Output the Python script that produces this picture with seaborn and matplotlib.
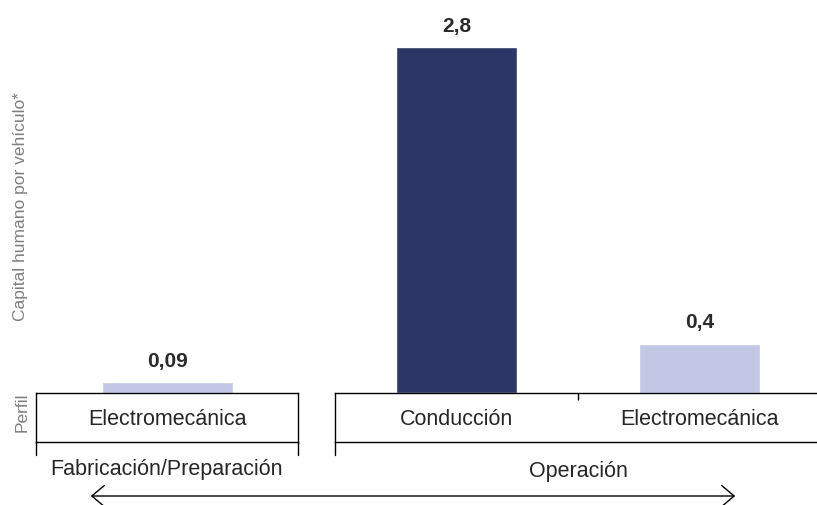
import matplotlib
matplotlib.use("Agg")
import matplotlib.pyplot as plt
import seaborn as sns

# datos
fab_perfiles = ["Electromecánica"]
fab_valores = [0.09]
op_perfiles = ["Conducción", "Electromecánica "]
op_valores = [2.8, 0.4]
etapas = ["Fabricación/Preparación", "Operación"]
ylabel = "Capital humano por vehículo*"

sns.set_theme(style="white")
plt.rcParams["font.family"] = ["Liberation Sans", "DejaVu Sans"]

W, H = 817, 505
fig = plt.figure(figsize=(W / 100, H / 100), dpi=100)

oscuro = "#2d3767"
claro = "#c1c7e5"


def fx(px):
    return px / W


def fy(py):
    return 1 - py / H


def grupo(x0, x1, perfiles, valores, colores, extremos):
    ax = fig.add_axes([fx(x0), fy(393), fx(x1 - x0), 393 / H])
    sns.barplot(x=perfiles, y=valores, hue=perfiles, palette=colores,
                width=0.5, legend=False, ax=ax, saturation=1)
    ax.set_xlim(-0.5, len(perfiles) - 0.5)
    ax.set_ylim(0, 3.18)
    for c in ax.containers:
        ax.bar_label(c, labels=[f"{v:g}".replace(".", ",") for v in c.datavalues],
                     padding=8, fontsize=15, fontweight="bold", color="#2a2a2a")
    ax.axis("off")

    # caja de perfiles
    bx = fig.add_axes([fx(x0), fy(442), fx(x1 - x0), 49 / H], sharex=ax)
    bx.set_ylim(0, 1)
    for s in bx.spines.values():
        s.set_color("black")
        s.set_linewidth(1.0)
    bx.set_yticks([])
    bx.set_xticks([i + 0.5 for i in range(len(perfiles) - 1)])
    bx.tick_params(axis="x", direction="in", length=5, width=1.0, color="black",
                   bottom=False, top=True, labelbottom=False, labeltop=False)
    bx.set_facecolor("white")
    for i, p in enumerate(perfiles):
        bx.text(i, 0.46, p.strip(), ha="center", va="center", fontsize=15.5, color="#262626")
    for e in extremos:
        bx.axvline(e, ymin=-13 / 49, ymax=0, color="black", lw=1.0, clip_on=False)
    return ax, bx


grupo(36, 298, fab_perfiles, fab_valores, [claro], [-0.5, 0.5])
grupo(335, 821, op_perfiles, op_valores, [oscuro, claro], [-0.5])

fig.text(fx(166), fy(470), etapas[0], ha="center", va="center", fontsize=15.5, color="#262626")
fig.text(fx(578), fy(472), etapas[1], ha="center", va="center", fontsize=15.5, color="#262626")

fig.text(fx(21), fy(207), ylabel, rotation=90, ha="center", va="center",
         fontsize=12.5, color="#7f7f7f")
fig.text(fx(22), fy(412), "Perfil", rotation=90, ha="center", va="center",
         fontsize=12.5, color="#7f7f7f")

fig.patches.append(matplotlib.patches.FancyArrowPatch(
    (fx(88), fy(496)), (fx(738), fy(496)), transform=fig.transFigure,
    arrowstyle="<->,head_length=0.45,head_width=0.38", mutation_scale=20,
    color="black", lw=1.0))

fig.savefig("out.png", dpi=100)
